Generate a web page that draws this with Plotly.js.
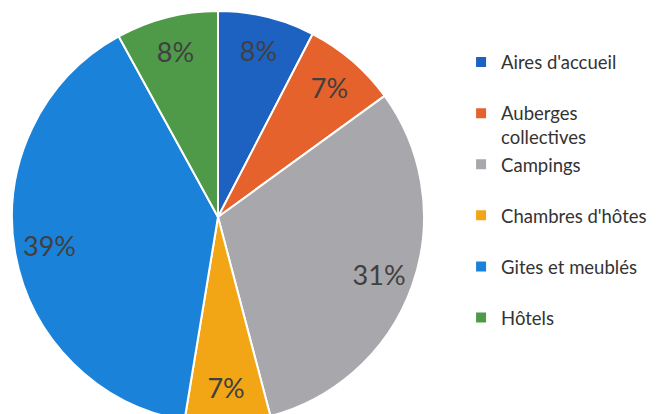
<!DOCTYPE html>
<html>
<head>
<meta charset="utf-8">
<script src="https://cdn.plot.ly/plotly-3.0.1.min.js"></script>
<style>
html, body { margin: 0; padding: 0; overflow: hidden; background: #ffffff; }
#chart { width: 658px; height: 440px; }
</style>
</head>
<body>
<div id="chart"></div>
<script>
// Data (shares in %)
const categories = ["Aires d'accueil", "Auberges collectives", "Campings", "Chambres d'hôtes", "Gites et meublés", "Hôtels"];
const legendLabels = ["Aires d'accueil", "Auberges<br>collectives", "Campings", "Chambres d'hôtes", "Gites et meublés", "Hôtels"];
const shares = [7.6, 7.4, 30.9, 6.7, 39.4, 8.0];
const colors = ["#1d62c0", "#e5622c", "#a8a7ab", "#f2a615", "#1a82d9", "#4f9a49"];

// legend text padded to 2 lines each for Excel-like spacing
const legendText = legendLabels.map(function (l) {
  const lines = l.split('<br>');
  while (lines.length < 2) lines.push(' ');
  return lines.join('<br>');
});

const base = {
  type: 'pie',
  values: shares,
  labels: legendText,
  sort: false,
  direction: 'clockwise',
  rotation: 0,
  domain: {x: [0, 1], y: [0, 1]}
};

const slices = Object.assign({}, base, {
  marker: {colors: colors, line: {color: '#ffffff', width: 2}},
  textinfo: 'none',
  hoverinfo: 'skip',
  showlegend: true
});

const labelsRing = Object.assign({}, base, {
  hole: 0.66,
  marker: {colors: colors.map(function () { return 'rgba(0,0,0,0)'; }), line: {width: 0}},
  texttemplate: '%{percent:.0%}',
  textposition: 'inside',
  insidetextorientation: 'horizontal',
  textfont: {family: 'Lato, sans-serif', size: 27, color: '#404040'},
  hoverinfo: 'skip',
  showlegend: false
});

const layout = {
  width: 658,
  height: 440,
  margin: {l: 12, r: 234, t: 11, b: 17, autoexpand: false},
  paper_bgcolor: '#ffffff',
  showlegend: true,
  legend: {
    x: 1.09, xanchor: 'left',
    y: 0.921, yanchor: 'top',
    valign: 'top',
    itemwidth: 30,
    font: {family: 'Lato, sans-serif', size: 18.5, color: '#333333'},
    bgcolor: 'rgba(0,0,0,0)'
  }
};

Plotly.newPlot('chart', [slices, labelsRing], layout, {displayModeBar: false, staticPlot: true});
</script>
</body>
</html>
